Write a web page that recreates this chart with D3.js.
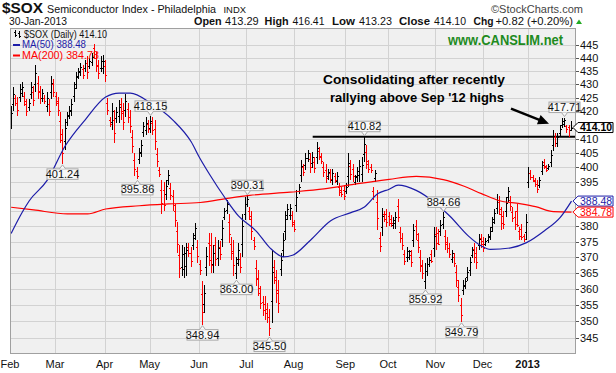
<!DOCTYPE html>
<html><head><meta charset="utf-8">
<script src="https://cdn.jsdelivr.net/npm/d3@7"></script>
<style>
html,body{margin:0;padding:0;background:#fff;}
svg{display:block;font-family:"Liberation Sans",Arial,sans-serif;}
</style></head><body>
<svg id="chart" width="616" height="373"></svg>
<script>
// ---------- DATA ----------
const highs=[422.1,428.8,425.8,425.2,430.1,430.7,427.0,424.5,424.5,430.7,
429.4,437.4,433.1,429.4,428.2,425.8,427.0,424.5,433.1,431.9,
427.0,425.2,419.6,413.5,417.2,419.6,422.1,424.5,430.7,434.4,
436.2,438.0,437.4,439.3,440.5,439.9,441.7,445.2,442.3,439.3,
440.5,441.0,439.3,424.9,417.8,422.9,420.4,421.6,424.2,424.9,
422.9,426.2,422.9,420.4,413.2,405.0,400.1,406.7,409.6,416.2,
417.8,416.8,418.15,417.8,416.8,406.7,400.1,395.7,395.1,395.7,
399.0,394.5,392.1,387.6,381.5,374.0,374.0,373.4,374.5,374.5,
373.4,377.7,381.0,375.6,369.1,362.3,361.3,373.3,377.7,377.7,
373.9,376.7,375.6,375.1,382.0,386.3,388.7,384.3,376.7,375.6,
370.1,374.6,371.2,384.3,389.8,390.31,386.5,385.3,376.7,369.1,
365.9,360.7,357.6,357.6,355.5,353.6,372.2,369.1,365.9,362.8,
371.2,377.7,385.3,387.6,387.6,385.3,382.0,392.1,394.3,402.6,
401.2,404.9,406.1,404.9,405.5,403.7,409.0,407.3,404.9,401.8,
401.2,399.6,399.6,399.6,397.9,398.5,394.5,393.4,394.0,394.5,
404.9,402.6,401.2,397.3,400.1,402.6,403.5,410.82,407.9,402.6,
401.2,393.4,399.1,392.1,378.2,386.3,385.3,385.9,384.8,383.7,
383.1,384.8,389.2,379.8,377.7,372.3,373.4,372.3,372.3,380.9,
382.0,377.7,372.3,369.1,368.1,369.6,370.1,372.3,379.8,379.8,
379.3,382.0,384.66,378.7,376.7,374.6,372.3,371.2,367.5,362.6,
357.1,362.6,363.5,366.7,370.1,373.4,374.6,373.4,377.6,377.6,
376.6,376.1,377.6,379.8,383.1,385.9,390.9,390.3,386.4,385.3,
389.8,393.4,390.3,386.4,385.3,387.5,379.8,380.9,377.5,384.2,
400.1,399.0,397.3,396.2,395.7,396.8,402.4,403.0,400.7,401.3,
406.1,413.2,412.0,412.0,415.0,417.5,417.71,415.0,415.0,416.41];
const lows=[413.5,420.2,422.1,418.4,423.3,425.2,422.1,418.4,420.2,424.5,
422.1,427.0,424.5,422.7,423.3,422.7,419.6,418.4,424.5,425.2,
422.1,418.4,408.6,401.24,406.1,414.7,417.2,418.4,423.3,428.2,
431.9,433.1,431.9,434.4,431.9,435.6,436.8,439.5,434.4,431.9,
434.4,434.0,430.7,418.5,414.4,413.2,408.5,415.6,415.6,416.8,
413.2,418.0,415.6,412.0,404.9,397.0,395.86,401.3,403.7,410.8,
411.4,412.0,412.0,411.4,406.1,400.1,396.8,384.3,385.3,388.7,
394.0,388.7,385.3,379.8,371.2,363.3,363.9,363.3,363.9,370.1,
367.0,372.3,375.6,368.1,364.4,348.94,352.5,364.1,367.2,365.0,
365.0,367.2,367.2,369.1,373.3,382.0,384.3,374.6,369.1,364.0,
363.0,367.2,365.0,370.1,382.0,386.5,382.0,375.6,372.3,360.7,
357.6,353.6,351.5,350.3,349.3,345.5,349.3,361.6,355.5,352.5,
364.0,370.1,375.6,382.0,382.0,379.8,378.2,384.8,390.9,395.1,
397.2,399.1,402.0,398.0,399.7,398.0,401.2,402.6,401.2,396.8,
394.5,395.7,394.5,394.0,394.5,394.0,390.3,389.8,388.7,390.9,
393.4,395.7,395.1,394.0,395.1,395.1,395.1,402.0,399.6,398.0,
398.0,388.7,395.1,378.7,371.7,377.0,381.5,379.8,380.3,379.8,
379.3,379.3,381.4,374.6,372.3,367.5,368.5,369.1,367.0,373.4,
375.6,371.2,365.4,362.9,359.92,363.9,366.7,368.0,370.1,372.3,
374.0,377.0,379.3,372.3,371.2,369.6,368.0,366.7,360.5,356.0,
349.79,358.1,360.0,362.5,364.1,369.6,368.0,366.1,372.4,373.0,
371.6,373.5,374.6,375.6,378.2,380.9,384.2,383.7,378.7,379.3,
383.1,388.1,385.3,381.4,378.7,379.8,375.6,375.6,375.0,375.6,
393.0,395.6,395.1,393.4,391.2,392.9,397.3,399.6,398.5,399.0,
400.1,405.6,407.3,407.3,410.8,413.8,414.4,412.0,410.8,413.23];
const opens=[416.1,422.8,424.7,423.2,425.3,426.9,425.5,422.7,421.5,426.4,
427.2,430.1,430.5,427.4,424.8,424.9,421.8,422.7,427.1,429.9,
425.5,423.2,416.3,409.8,409.4,416.2,418.7,420.2,425.5,430.1,
433.2,434.6,435.8,435.9,437.9,436.9,438.3,443.8,440.0,437.1,
436.2,436.1,436.7,423.0,416.8,416.1,416.8,417.4,418.2,422.5,
420.0,420.5,420.7,417.9,410.7,402.6,398.8,402.9,405.5,412.4,
413.3,415.4,413.8,415.9,413.6,404.7,399.1,392.3,392.2,390.8,
395.5,392.8,390.1,385.3,378.4,370.8,366.9,366.3,367.1,373.2,
371.5,373.9,377.2,373.4,367.7,358.3,355.1,366.9,374.5,373.9,
367.7,373.9,369.7,373.3,375.9,383.3,385.6,381.4,374.4,372.1,
365.1,369.4,369.3,374.4,384.3,387.6,385.2,382.4,375.4,366.6,
363.4,358.6,355.8,355.4,353.6,351.2,356.2,366.9,362.8,359.7,
366.2,372.4,378.5,383.7,383.7,383.7,380.9,387.0,391.9,397.4,
400.0,400.8,403.2,402.8,401.4,402.0,403.5,405.9,403.8,400.3,
399.2,396.9,398.1,395.7,396.9,395.4,393.2,392.3,392.4,392.0,
396.9,400.5,399.4,395.0,396.6,397.4,397.6,404.6,405.4,401.2,
400.2,392.0,396.3,388.1,376.2,379.8,384.2,384.1,383.4,382.5,
380.4,381.0,386.9,378.2,376.1,370.9,370.0,370.1,370.7,375.6,
380.1,375.7,370.2,367.2,362.4,365.6,367.7,371.0,373.0,377.5,
377.7,378.5,380.9,376.8,375.0,373.1,369.3,369.9,365.4,360.6,
354.9,359.5,361.0,363.8,365.9,370.7,372.6,371.2,374.0,376.2,
375.1,374.3,375.5,376.9,379.7,382.4,386.2,388.3,384.1,383.5,
385.1,389.7,388.8,384.9,383.3,385.2,378.5,379.3,377.0,378.2,
395.1,398.0,396.6,395.4,394.4,394.1,398.8,402.0,400.0,399.7,
401.9,407.9,410.6,408.7,412.1,414.9,415.4,414.8,414.2,413.29];
const closes=[419.5,426.2,423.2,420.4,428.1,429.1,423.6,420.2,423.2,428.8,
424.3,434.3,427.1,424.7,426.7,423.6,424.8,420.2,430.5,427.2,
423.6,420.4,411.9,404.9,413.9,418.1,420.6,422.7,428.5,432.5,
434.9,436.5,433.6,437.8,434.5,438.6,440.2,439.9,436.8,434.1,
438.7,438.9,433.3,420.4,415.4,420.0,412.1,419.8,421.6,419.2,
416.1,423.7,417.8,414.5,407.4,399.4,397.1,405.1,407.8,414.6,
415.9,413.4,416.3,413.3,409.3,402.1,397.8,387.7,387.0,393.6,
397.5,390.4,387.3,382.1,374.3,366.5,371.0,371.5,372.2,371.4,
368.9,376.1,379.4,370.3,365.8,352.9,358.7,370.5,369.0,367.5,
371.2,369.5,373.1,370.9,379.4,385.0,387.4,377.5,371.4,367.5,
368.0,372.4,366.9,380.0,387.5,389.2,383.4,378.5,373.6,363.2,
360.1,355.7,353.3,352.5,351.2,347.9,365.3,363.8,358.6,355.6,
369.0,375.4,382.4,385.9,386.3,381.5,379.3,389.9,393.3,400.4,
398.4,403.2,404.9,400.1,403.8,399.7,406.7,404.0,402.3,398.3,
396.5,398.4,396.0,397.9,395.5,397.2,391.6,390.9,390.3,393.4,
401.5,397.8,396.9,397.0,398.6,400.4,401.0,408.2,402.1,399.4,
399.0,390.1,397.9,382.7,373.7,383.5,382.6,381.6,381.3,381.0,
382.0,383.2,383.0,376.2,373.9,368.9,371.9,372.0,368.6,378.7,
377.5,373.2,367.5,364.8,365.6,367.9,369.1,368.9,376.9,374.6,
374.4,380.5,383.0,374.2,372.9,371.1,371.5,368.0,362.6,358.0,
352.0,361.3,362.5,365.4,368.3,372.3,370.0,368.3,376.0,374.4,
373.1,375.3,376.7,378.5,381.6,384.4,388.9,385.7,381.0,380.8,
387.8,391.8,386.8,382.9,380.7,380.5,376.9,376.5,375.8,381.6,
398.0,396.6,395.8,394.2,392.6,395.6,400.9,400.6,399.2,400.6,
404.3,410.9,408.7,410.6,413.7,416.4,416.7,413.6,413.28,414.10];

// moving averages: [trading-day index, value]
const ma50=[[0,377.7],[5,384.8],[8,388.5],[16,395.5],[24,407.5],[33,417],[42,425.2],[48,426.7],[53,426.7],[62,423],
[72,416.7],[80,409],[84,403],[88,397.8],[95,389.6],[101,383.5],[109,378.4],[115,373],[121,370.1],[125,370.6],
[133,375.5],[142,381.9],[151,384.6],[157,386.5],[163,391],[168,392.5],[172,393.9],[180,392.1],[188,388.1],[195,383.4],
[203,377],[209,373.6],[213,372.5],[222,373],[229,374.7],[237,378.6],[244,383],[249,388.48]];
const ma200=[[0,386.4],[10,385.5],[25,384.2],[34,384.2],[42,385.8],[57,386.9],[70,387.5],[84,388],[97,389.5],[106,390.4],
[124,391.5],[139,392.6],[154,394.4],[168,395.9],[180,396.9],[192,395.8],[201,393.6],[209,391.0],[217,388.6],[226,387.6],
[233,386.6],[241,384.9],[249,384.78]];

const monthLabels=["Feb","Mar","Apr","May","Jun","Jul","Aug","Sep","Oct","Nov","Dec","2013"];
const monthStarts=[0,20,42,62,84,105,126,149,168,189,210,230];
const yTickValues=d3.range(345,446,5);

const labelIdx=[23,56,62,85,100,105,115,157,184,192,200,246];
const labelKind=["low","low","high","low","low","high","low","high","low","high","low","high"];

const resistLevel=410.82, resistStartIdx=134;
const lastValue=414.10, ma50Last=388.48, ma200Last=384.78;
const noteLines=["Consolidating after recently","rallying above Sep '12 highs"];
const arrowTip=[239,415.5];

// ---------- LAYOUT ----------
const L=10,R=576,T=28,B=354;
const svg=d3.select("#chart");
const x=d3.scaleLinear().domain([-0.5,251]).range([L,R]);
const y=d3.scaleLog().domain([345,445]).range([337.7,44.7]);
const fmt=d3.format(".2f");
const RED="#ff0000", BLUE="#1c1ca8", GRID="#d2d2d2";

svg.append("rect").attr("width",616).attr("height",373).attr("fill","#fff");
svg.append("defs").append("clipPath").attr("id","clip")
  .append("rect").attr("x",L).attr("y",T).attr("width",R-L).attr("height",B-T);
svg.append("rect").attr("x",L).attr("y",T).attr("width",R-L).attr("height",B-T).attr("fill","#f0f0f0");

const grid=svg.append("g").attr("shape-rendering","crispEdges").attr("clip-path","url(#clip)");
grid.selectAll(".hg").data(yTickValues).join("line")
  .attr("x1",L).attr("x2",R).attr("y1",d=>Math.round(y(d))+0.5).attr("y2",d=>Math.round(y(d))+0.5)
  .attr("stroke",GRID);
grid.selectAll(".vg").data(monthStarts).join("line")
  .attr("x1",d=>Math.round(x(d-0.5))+0.5).attr("x2",d=>Math.round(x(d-0.5))+0.5).attr("y1",T).attr("y2",B)
  .attr("stroke",GRID);

const plot=svg.append("g").attr("clip-path","url(#clip)");

// resistance line
plot.append("line").attr("x1",x(resistStartIdx)).attr("x2",R)
  .attr("y1",y(resistLevel)).attr("y2",y(resistLevel)).attr("stroke","#000").attr("stroke-width",2);

// OHLC bars
const idx=d3.range(highs.length);
plot.append("g").attr("shape-rendering","crispEdges").selectAll("path").data(idx).join("path")
  .attr("d",i=>{
    const px=Math.floor(x(i))+0.5;
    const yh=Math.round(y(highs[i])), yl=Math.max(Math.round(y(lows[i])),yh+1);
    const yo=Math.round(y(opens[i]))+0.5, yc=Math.round(y(closes[i]))+0.5;
    return `M${px},${yh}V${yl}M${px-1.5},${yo}H${px}M${px},${yc}H${px+1.5}`;
  })
  .attr("fill","none").attr("stroke-width",1)
  .attr("stroke",i=>{const prev=i===0?opens[0]:closes[i-1];return closes[i]<prev?RED:"#000";});

// moving averages
const line=d3.line().x(d=>x(d[0])).y(d=>y(d[1])).curve(d3.curveMonotoneX);
plot.append("path").attr("d",line(ma200)).attr("fill","none").attr("stroke",RED).attr("stroke-width",1.2);
plot.append("path").attr("d",line(ma50)).attr("fill","none").attr("stroke",BLUE).attr("stroke-width",1.2);

// high / low value labels
const lab=svg.append("g");
labelIdx.forEach((i,k)=>{
  const isHigh=labelKind[k]==="high";
  const v=isHigh?highs[i]:lows[i];
  const cx=Math.floor(x(i))+0.5, w=31, h=10.5;
  const yv=y(v);
  const by=isHigh?yv-5-h:yv+5;
  const g=lab.append("g");
  const notchY=isHigh?by+h:by;
  const tipY=isHigh?yv-1:yv+1;
  g.append("rect").attr("x",cx-w/2).attr("y",by).attr("width",w).attr("height",h)
    .attr("fill","#f8f8f8").attr("stroke","#a8a8a8").attr("stroke-width",1);
  g.append("path").attr("d",`M${cx-3},${notchY}L${cx},${tipY}L${cx+3},${notchY}`)
    .attr("fill","#f8f8f8").attr("stroke","#a8a8a8").attr("stroke-width",1);
  g.append("text").attr("x",cx).attr("y",by+h-1.6).attr("text-anchor","middle")
    .attr("font-size",11).attr("fill","#111").text(fmt(v));
});

// border
svg.append("rect").attr("x",L+0.5).attr("y",T+0.5).attr("width",R-L-1).attr("height",B-T-1)
  .attr("fill","none").attr("stroke","#a0a0a0").attr("shape-rendering","crispEdges");

// right-side value tags (positions kept apart like the reference)
const tagVals=[[ma50Last,BLUE,false],[ma200Last,RED,false],[lastValue,"#000",true]];
const tagCy=tagVals.map(d=>y(d[0]));
tagCy[1]=Math.max(tagCy[1],tagCy[0]+10.5);
tagCy[0]=Math.min(tagCy[0],tagCy[1]-10.5);

// y axis (right) — tick labels hidden where a tag covers them, as in the reference
const ya=svg.append("g");
ya.selectAll("line").data(yTickValues).join("line")
  .attr("x1",R).attr("x2",R+3).attr("y1",d=>Math.round(y(d))+0.5).attr("y2",d=>Math.round(y(d))+0.5)
  .attr("stroke","#555").attr("shape-rendering","crispEdges");
ya.selectAll("text").data(yTickValues.filter(v=>tagCy.every(c=>Math.abs(y(v)-c)>8))).join("text")
  .attr("x",R+4).attr("y",d=>y(d)+4).attr("font-size",11).attr("fill","#111").text(d=>d);

tagVals.forEach((d,k)=>{
  const cy=tagCy[k], color=d[1];
  const g=svg.append("g");
  g.append("path").attr("d",`M${R-3},${cy}L${R+2},${cy-5}H613V${cy+5}H${R+2}Z`)
    .attr("fill","#fff").attr("stroke",color).attr("stroke-width",1);
  g.append("text").attr("x",R+4).attr("y",cy+3.6).attr("font-size",10.5)
    .attr("font-weight",d[2]?"bold":"normal").attr("fill",color).text(fmt(d[0]));
});

// x axis labels
svg.append("g").selectAll("text").data(monthLabels).join("text")
  .attr("x",(d,k)=>x(monthStarts[k]-0.5)).attr("y",368).attr("text-anchor","middle")
  .attr("font-size",11).attr("font-weight",d=>d==="2013"?"bold":"normal").attr("fill","#111").text(d=>d);

// header
const hd=svg.append("g").attr("fill","#111");
function txt(s,xx,yy,size,w,opts={}){
  const t=hd.append("text").attr("x",xx).attr("y",yy).attr("font-size",size).text(s);
  if(w) t.attr("textLength",w).attr("lengthAdjust","spacingAndGlyphs");
  if(opts.bold) t.attr("font-weight","bold");
  if(opts.fill) t.attr("fill",opts.fill);
  return t;
}
txt("$SOX",2,13,15,41,{bold:true});
txt("Semiconductor Index - Philadelphia",47,12.5,10.8,169);
txt("INDX",223.5,12.5,9.5,22.5);
txt("\u00A9StockCharts.com",491,12.5,11.5,92,{fill:"#444"});
txt("30-Jan-2013",9,25,11,58);
const ohlcHdr=[["Open",194,27.6,true],["413.29",225,33.7,false],["High",264.6,24,true],["416.41",292.5,32,false],
  ["Low",332,23,true],["413.23",359,33,false],["Close",399,31,true],["414.10",434,32,false],
  ["Chg",473.5,20,true],["+0.82 (+0.20%)",495.5,77.5,false]];
ohlcHdr.forEach(d=>txt(d[0],d[1],25,d[3]?11.5:11,d[2],{bold:d[3]}));
svg.append("path").attr("d","M576,24L579,19.5L582,24Z").attr("fill","#22aa22");

// legend
const lg=svg.append("g");
lg.append("path").attr("d","M15.5,30V37M14,32H15.5M15.5,35H17M19.5,31V37.5M18,33H19.5M19.5,36H21")
  .attr("stroke","#000").attr("fill","none").attr("stroke-width",1).attr("shape-rendering","crispEdges");
lg.append("text").attr("x",24).attr("y",37.5).attr("font-size",11).attr("fill","#111")
  .attr("textLength",83).attr("lengthAdjust","spacingAndGlyphs").text("$SOX (Daily) "+fmt(lastValue));
lg.append("rect").attr("x",13).attr("y",44).attr("width",7).attr("height",2).attr("fill",BLUE);
lg.append("text").attr("x",22).attr("y",48).attr("font-size",11).attr("fill",BLUE)
  .attr("textLength",64).attr("lengthAdjust","spacingAndGlyphs").text("MA(50) "+fmt(ma50Last));
lg.append("rect").attr("x",13).attr("y",54.5).attr("width",7).attr("height",2).attr("fill",RED);
lg.append("text").attr("x",22).attr("y",58.5).attr("font-size",11).attr("fill",RED)
  .attr("textLength",77).attr("lengthAdjust","spacingAndGlyphs").text("MA(200) "+fmt(ma200Last));

// watermark
svg.append("text").attr("x",448).attr("y",45).attr("font-size",14).attr("font-weight","bold")
  .attr("fill","#1e8b1e").attr("textLength",115).attr("lengthAdjust","spacingAndGlyphs").text("www.CANSLIM.net");

// annotation
svg.append("text").attr("x",323).attr("y",84).attr("font-size",12.5).attr("font-weight","bold")
  .attr("textLength",182).attr("lengthAdjust","spacingAndGlyphs").text(noteLines[0]);
svg.append("text").attr("x",330).attr("y",101.5).attr("font-size",12.5).attr("font-weight","bold")
  .attr("textLength",174).attr("lengthAdjust","spacingAndGlyphs").text(noteLines[1]);
const tx=x(arrowTip[0]), ty=y(arrowTip[1]);
const sx=tx-38, sy=ty-15;
const dx=tx-sx, dy=ty-sy, len=Math.hypot(dx,dy), ux=dx/len, uy=dy/len;
const hl=11, hw=5, bx=tx-ux*hl, byy=ty-uy*hl;
svg.append("line").attr("x1",sx).attr("y1",sy).attr("x2",bx+ux*2).attr("y2",byy+uy*2)
  .attr("stroke","#000").attr("stroke-width",2.5);
svg.append("path").attr("d",`M${tx},${ty}L${bx-uy*hw},${byy+ux*hw}L${bx+uy*hw},${byy-ux*hw}Z`).attr("fill","#000");
</script>
</body></html>
